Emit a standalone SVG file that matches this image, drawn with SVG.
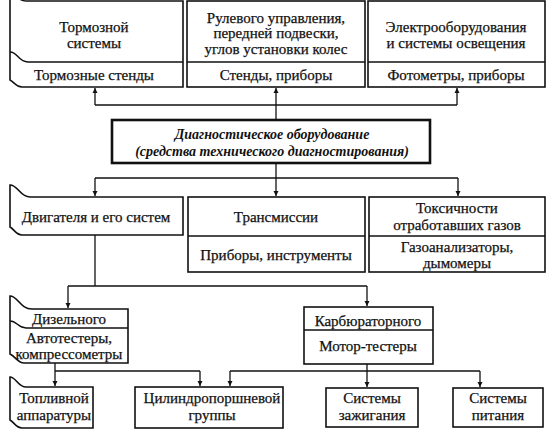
<svg xmlns="http://www.w3.org/2000/svg" width="552" height="434" viewBox="0 0 552 434">
<defs>
<style>
.b{fill:#fff;stroke:#111;stroke-width:1.6}
.d{fill:none;stroke:#111;stroke-width:1.4}
.c{fill:none;stroke:#111;stroke-width:1.3}
text{font-family:"Liberation Serif","Times New Roman",serif;font-size:15px;fill:#111;text-anchor:middle;stroke:#111;stroke-width:0.25}
.bi{font-weight:bold;font-style:italic;font-size:14px;stroke-width:0}
</style>
<marker id="a" viewBox="0 0 10 10" refX="10" refY="5" markerWidth="5" markerHeight="8" orient="auto" markerUnits="userSpaceOnUse">
<path d="M0,0L10,5L0,10z" fill="#111"/>
</marker>
</defs>
<rect width="552" height="434" fill="#fff"/>

<g id="connectors">
<path class="c" d="M95,105H457"/>
<path class="c" d="M95,105V88" marker-end="url(#a)"/>
<path class="c" d="M276,120V88" marker-end="url(#a)"/>
<path class="c" d="M457,105V88" marker-end="url(#a)"/>
<path class="c" d="M276,163V178"/>
<path class="c" d="M95,178H458"/>
<path class="c" d="M95,178V196" marker-end="url(#a)"/>
<path class="c" d="M276,178V196" marker-end="url(#a)"/>
<path class="c" d="M458,178V196" marker-end="url(#a)"/>
<path class="c" d="M95,235V286"/>
<path class="c" d="M68,286H367"/>
<path class="c" d="M68,286V308" marker-end="url(#a)"/>
<path class="c" d="M367,286V306" marker-end="url(#a)"/>
<path class="c" d="M55,363V386" marker-end="url(#a)"/>
<path class="c" d="M55,371H200"/>
<path class="c" d="M200,371V386" marker-end="url(#a)"/>
<path class="c" d="M367,364V387" marker-end="url(#a)"/>
<path class="c" d="M230,371H480"/>
<path class="c" d="M230,371V386" marker-end="url(#a)"/>
<path class="c" d="M480,371V387" marker-end="url(#a)"/>
</g>

<g id="n-brake">
<path class="b" d="M10,-6 C16,-6 18,1 26,1 H183 V87 H22 C16,87 14,82 10,80 Z"/>
<path class="d" d="M10,52 C18,52 18,62 28,62 H183"/>
<text x="94" y="32">Тормозной</text>
<text x="94" y="48">системы</text>
<text x="94" y="80">Тормозные стенды</text>
</g>

<g id="n-steer">
<rect class="b" x="187" y="1" width="178" height="86"/>
<path class="d" d="M187,62H365"/>
<text x="276" y="23">Рулевого управления,</text>
<text x="276" y="38">передней подвески,</text>
<text x="276" y="54">углов установки колес</text>
<text x="276" y="80">Стенды, приборы</text>
</g>

<g id="n-elec">
<rect class="b" x="368" y="1" width="177" height="86"/>
<path class="d" d="M368,62H545"/>
<text x="456" y="32">Электрооборудования</text>
<text x="456" y="48">и системы освещения</text>
<text x="456" y="80">Фотометры, приборы</text>
</g>

<g id="n-main">
<rect x="112" y="120" width="318" height="43" fill="#fff" stroke="#111" stroke-width="2.6"/>
<text class="bi" x="272" y="139">Диагностическое оборудование</text>
<text class="bi" x="272" y="156">(средства технического диагностирования)</text>
</g>

<g id="n-engine">
<path class="b" d="M10,185 C18,185 20,197 30,197 H183 V235 H22 C16,235 14,229 10,227 Z"/>
<text x="96" y="222">Двигателя и его систем</text>
</g>

<g id="n-trans">
<rect class="b" x="188" y="197" width="177" height="75"/>
<path class="d" d="M188,236H365"/>
<text x="276" y="222">Трансмиссии</text>
<text x="276" y="260">Приборы, инструменты</text>
</g>

<g id="n-tox">
<rect class="b" x="369" y="197" width="176" height="75"/>
<path class="d" d="M369,236H545"/>
<text x="457" y="213">Токсичности</text>
<text x="457" y="230">отработавших газов</text>
<text x="457" y="252">Газоанализаторы,</text>
<text x="457" y="268">дымомеры</text>
</g>

<g id="n-diesel">
<path class="b" d="M10,296 C18,296 20,309 32,309 H128 V363 H24 C18,363 16,357 10,354 Z"/>
<path class="d" d="M10,321 C17,321 18,328 26,328 H128"/>
<text x="69" y="324">Дизельного</text>
<text x="69" y="343">Автотестеры,</text>
<text x="69" y="359">компрессометры</text>
</g>

<g id="n-carb">
<rect class="b" x="304" y="307" width="129" height="57"/>
<path class="d" d="M304,330H433"/>
<text x="368" y="326">Карбюраторного</text>
<text x="368" y="351">Мотор-тестеры</text>
</g>

<g id="n-fuel">
<path class="b" d="M10,377 C16,377 18,387 26,387 H93 V428 H22 C16,428 14,422 10,420 Z"/>
<text x="54" y="403">Топливной</text>
<text x="54" y="420">аппаратуры</text>
</g>

<g id="n-cyl">
<rect class="b" x="135" y="387" width="148" height="41"/>
<text x="212" y="403">Цилиндропоршневой</text>
<text x="212" y="420">группы</text>
</g>

<g id="n-ign">
<rect class="b" x="326" y="388" width="92" height="39"/>
<text x="372" y="403">Системы</text>
<text x="372" y="420">зажигания</text>
</g>

<g id="n-feed">
<rect class="b" x="453" y="388" width="90" height="39"/>
<text x="498" y="403">Системы</text>
<text x="498" y="420">питания</text>
</g>
</svg>
